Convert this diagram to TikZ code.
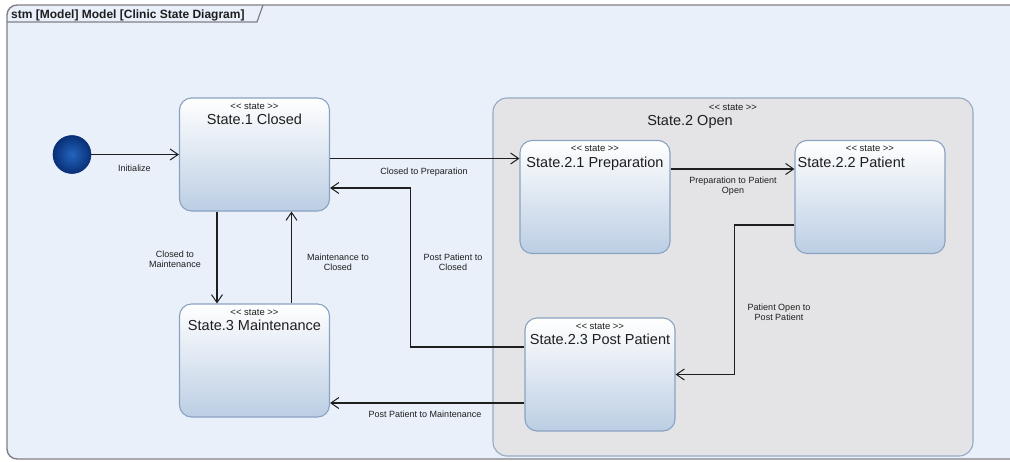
\documentclass[tikz,border=0pt]{standalone}
\usepackage{fontspec}
\setmainfont{Liberation Sans}
\usetikzlibrary{arrows.meta,calc}

\definecolor{framebg}{RGB}{233,240,250}
\definecolor{framecol}{RGB}{128,128,132}
\definecolor{openfill}{RGB}{228,228,230}
\definecolor{openedge}{RGB}{150,170,196}
\definecolor{boxedge}{RGB}{138,162,194}
\definecolor{boxbot}{RGB}{188,206,228}
\definecolor{inktext}{RGB}{30,30,30}
\definecolor{ballout}{RGB}{8,48,118}
\definecolor{ballin}{RGB}{36,100,190}

\tikzset{
  stbox/.style={draw=boxedge, line width=1.1pt, rounded corners=12pt,
    minimum width=150pt, minimum height=113pt, inner sep=0pt,
    top color=white, middle color=white, bottom color=boxbot},
  openbox/.style={draw=openedge, line width=1.1pt, rounded corners=14pt,
    fill=openfill, minimum width=480pt, minimum height=358pt, inner sep=0pt},
  stereo/.style={anchor=base, inner sep=0pt, text=inktext,
    font=\fontsize{9.5}{10}\selectfont},
  stname/.style={anchor=base, inner sep=0pt, text=inktext,
    font=\fontsize{14.5}{17}\selectfont},
  edgelbl/.style={inner sep=0pt, text=inktext, align=center,
    font=\fontsize{9}{9.6}\selectfont},
  trans/.style={draw=inktext, line width=1.7pt,
    -{Straight Barb[length=8pt,width=11pt,line width=1pt]}},
}

\begin{document}
\begin{tikzpicture}[x=1pt, y=-1pt]
  \useasboundingbox (0,0) rectangle (1010,461);
  \clip (0,0) rectangle (1010,461);

  % diagram frame with its title tab
  \draw[framecol, line width=1.4pt, fill=framebg, rounded corners=10pt]
    (7,5) rectangle (1030,459);
  \draw[framecol, line width=1.2pt] (7,22) -- (257,22) -- (263,5);
  \node[anchor=base west, inner sep=0pt, text=inktext,
    font=\fontsize{12}{14}\bfseries\selectfont]
    (title) at (11,18.5) {stm [Model] Model [Clinic State Diagram]};

  % composite state
  \node[openbox] (open) at (733,277) {};
  \node[stereo] (openst) at (733,110) {<{}< state >{}>};
  \node[stname] (openname) at (690,125.5) {State.2 Open};

  % initial pseudostate
  \node[circle, minimum size=38pt, inner sep=0pt, draw=ballout, line width=0.6pt,
    inner color=ballin, outer color=ballout] (init) at (72,154.5) {};

  % simple states
  \node[stbox] (closed) at (254.5,154.5) {};
  \node[stereo] at ($(closed.north)+(0,12)$) {<{}< state >{}>};
  \node[stname] at ($(closed.north)+(0,27.5)$) {State.1 Closed};

  \node[stbox] (maint) at (254.5,360.5) {};
  \node[stereo] at ($(maint.north)+(0,12)$) {<{}< state >{}>};
  \node[stname] at ($(maint.north)+(0,27.5)$) {State.3 Maintenance};

  \node[stbox] (prep) at (595,197) {};
  \node[stereo] at ($(prep.north)+(0,12)$) {<{}< state >{}>};
  \node[stname] at ($(prep.north)+(0,27.5)$) {State.2.1 Preparation};

  \node[stbox] (patient) at (870,197) {};
  \node[stereo] at ($(patient.north)+(0,12)$) {<{}< state >{}>};
  \node[stname, anchor=base west] at ($(patient.north west)+(3,27.5)$) {State.2.2 Patient};

  \node[stbox] (post) at (600,374.5) {};
  \node[stereo] at ($(post.north)+(0,12)$) {<{}< state >{}>};
  \node[stname] at ($(post.north)+(0,27.5)$) {State.2.3 Post Patient};

  % transitions
  \draw[trans] (init.east) -- (init -| closed.west);
  \draw[trans] ([yshift=-4pt]closed.east) -- ([yshift=-4pt]closed.east -| prep.west);
  \draw[trans] ([yshift=27.5pt]post.west) -- ++(-114,0) |- ([yshift=-33.5pt]closed.east);
  \draw[trans] ([yshift=28pt]prep.east) -- ([yshift=28pt]prep.east -| patient.west);
  \draw[trans] ([yshift=-28pt]patient.west) -- ++(-60,0) |- (post.east);
  \draw[trans] ([yshift=-28.5pt]post.west) -- ([yshift=-28.5pt]post.west -| maint.east);
  \draw[trans] ([xshift=-37.5pt]closed.south) -- ([xshift=-37.5pt]closed.south |- maint.north);
  \draw[trans] ([xshift=37pt]maint.north) -- ([xshift=37pt]maint.north |- closed.south);

  % transition labels
  \node[edgelbl] (l-init) at (134.5,168) {Initialize};
  \node[edgelbl] (l-cp) at (424,172) {Closed to Preparation};
  \node[edgelbl] (l-cm) at (175,259) {Closed to\\Maintenance};
  \node[edgelbl] (l-mc) at (338,262) {Maintenance to\\Closed};
  \node[edgelbl] (l-pc) at (453,262) {Post Patient to\\Closed};
  \node[edgelbl] (l-pp) at (733,186) {Preparation to Patient\\Open};
  \node[edgelbl] (l-po) at (779,312) {Patient Open to\\Post Patient};
  \node[edgelbl] (l-pm) at (425,414) {Post Patient to Maintenance};
\end{tikzpicture}
\end{document}
